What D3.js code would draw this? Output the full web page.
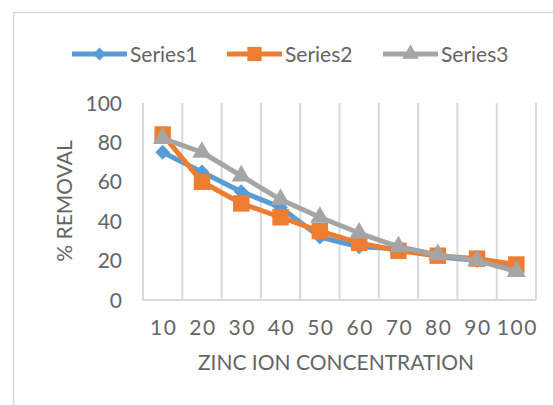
<!DOCTYPE html>
<html>
<head>
<meta charset="utf-8">
<script src="https://cdn.jsdelivr.net/npm/d3@7"></script>
<style>
  html, body { margin: 0; padding: 0; background: #fff; }
  svg { display: block; font-family: Lato, 'Open Sans', sans-serif; }
</style>
</head>
<body>
<div id="chart"></div>
<script>
// chart data
const categories = ['10', '20', '30', '40', '50', '60', '70', '80', '90', '100'];
const series1 = [75, 65, 55, 47, 32, 27, 26, 22, 20, 17];
const series2 = [84, 60, 49, 42, 35, 29, 25, 22.5, 21, 18];
const series3 = [82, 75, 63, 51, 42, 34, 27, 23, 20, 14.5];
const seriesNames = ['Series1', 'Series2', 'Series3'];
const yTicks = [0, 20, 40, 60, 80, 100];

const colors = ['#5B9BD5', '#ED7D31', '#A5A5A5'];
// Excel diamond = square turned 45 degrees
const markers = [d3.symbolSquare, d3.symbolSquare, d3.symbolTriangle];
const markerRot = [45, 0, 0];
const markerSizes = [110, 270, 160];
const textColor = '#656565';
const gridColor = '#D9D9D9';

const W = 553, H = 405;
const plot = { left: 143, right: 536, top: 103, bottom: 300 };

const svg = d3.select('#chart').append('svg')
  .attr('width', W)
  .attr('height', H);

// outer chart frame (runs off the right and bottom edges)
svg.append('rect')
  .attr('x', 13.5).attr('y', 12.5)
  .attr('width', 600).attr('height', 500)
  .attr('fill', 'none')
  .attr('stroke', gridColor)
  .attr('stroke-width', 1.5);

const x = d3.scaleBand()
  .domain(categories)
  .range([plot.left, plot.right]);

const y = d3.scaleLinear()
  .domain([0, 100])
  .range([plot.bottom, plot.top]);

// vertical gridlines at category boundaries
const bounds = categories.map(c => x(c)).concat([plot.right]);
svg.append('g')
  .selectAll('line')
  .data(bounds)
  .enter().append('line')
  .attr('x1', d => d).attr('x2', d => d)
  .attr('y1', plot.top).attr('y2', plot.bottom)
  .attr('stroke', gridColor)
  .attr('stroke-width', 2);

// x axis line
svg.append('line')
  .attr('x1', plot.left).attr('x2', plot.right)
  .attr('y1', plot.bottom).attr('y2', plot.bottom)
  .attr('stroke', gridColor)
  .attr('stroke-width', 2);

// y tick labels
svg.append('g')
  .selectAll('text')
  .data(yTicks)
  .enter().append('text')
  .attr('x', 122)
  .attr('y', d => y(d) + 7.5)
  .attr('text-anchor', 'end')
  .attr('fill', textColor)
  .style('font-size', '21px')
  .text(d => d);

// x tick labels
svg.append('g')
  .selectAll('text')
  .data(categories)
  .enter().append('text')
  .attr('x', d => x(d) + x.bandwidth() / 2 + 1)
  .attr('y', 335)
  .attr('text-anchor', 'middle')
  .attr('fill', textColor)
  .style('font-size', '21px')
  .style('letter-spacing', '1.5px')
  .text(d => d);

// axis titles
svg.append('text')
  .attr('transform', 'translate(72, 201) rotate(-90)')
  .attr('text-anchor', 'middle')
  .attr('fill', textColor)
  .style('font-size', '21px')
  .text('% REMOVAL');

svg.append('text')
  .attr('x', 336)
  .attr('y', 370)
  .attr('text-anchor', 'middle')
  .attr('fill', textColor)
  .style('font-size', '21px')
  .text('ZINC ION CONCENTRATION');

// series lines + markers
const allSeries = [series1, series2, series3];
const line = d3.line()
  .x((d, i) => x(categories[i]) + x.bandwidth() / 2)
  .y(d => y(d));

allSeries.forEach((vals, s) => {
  const g = svg.append('g');
  g.append('path')
    .datum(vals)
    .attr('d', line)
    .attr('fill', 'none')
    .attr('stroke', colors[s])
    .attr('stroke-width', 5)
    .attr('stroke-linejoin', 'round');
  g.selectAll('path.mk')
    .data(vals)
    .enter().append('path')
    .attr('class', 'mk')
    .attr('d', d3.symbol().type(markers[s]).size(markerSizes[s]))
    .attr('transform', (d, i) => `translate(${x(categories[i]) + x.bandwidth() / 2},${y(d)}) rotate(${markerRot[s]})`)
    .attr('fill', colors[s]);
});

// legend
const legendX = [72, 227, 383];
const legendY = 54;
seriesNames.forEach((name, s) => {
  const lg = svg.append('g').attr('transform', `translate(${legendX[s]},${legendY})`);
  lg.append('line')
    .attr('x1', 0).attr('x2', 55)
    .attr('y1', 0).attr('y2', 0)
    .attr('stroke', colors[s])
    .attr('stroke-width', 5);
  lg.append('path')
    .attr('d', d3.symbol().type(markers[s]).size(markerSizes[s] * 0.75))
    .attr('transform', `translate(27.5,0) rotate(${markerRot[s]})`)
    .attr('fill', colors[s]);
  lg.append('text')
    .attr('x', 58)
    .attr('y', 8)
    .attr('fill', textColor)
    .style('font-size', '21px')
    .text(name);
});
</script>
</body>
</html>
